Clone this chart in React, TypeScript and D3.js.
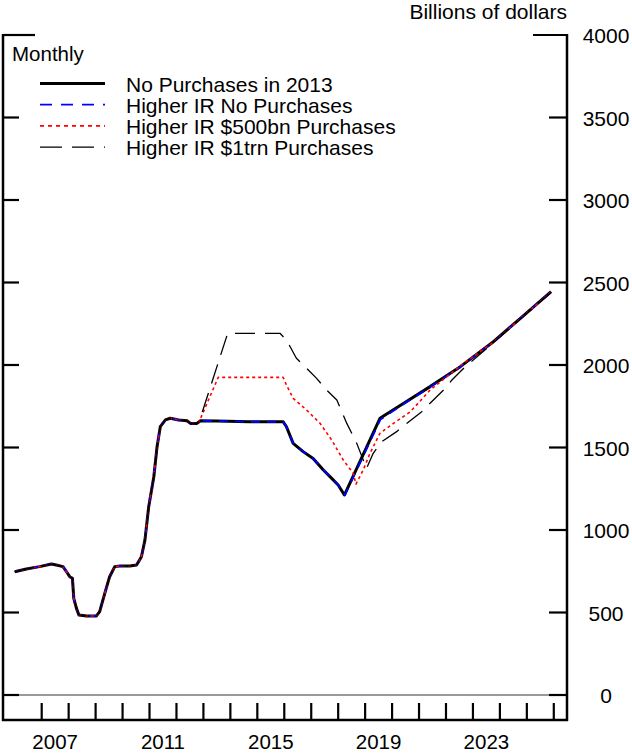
import React from "react";
import * as d3 from "d3";

// Shared history (all scenarios identical), decimal years / billions of dollars
const histDates = [2006.0, 2006.43, 2006.92, 2007.36, 2007.54, 2007.79, 2007.92, 2008.04, 2008.14, 2008.19, 2008.29, 2008.38, 2008.66, 2009.03, 2009.15, 2009.34, 2009.52, 2009.71, 2009.9, 2010.27, 2010.52, 2010.7, 2010.83, 2010.97, 2011.16, 2011.28, 2011.4, 2011.59, 2011.77, 2012.08, 2012.39, 2012.52, 2012.76];
const histValues = [747, 764, 778, 794, 788, 778, 747, 717, 707, 586, 525, 485, 479, 479, 505, 616, 717, 778, 782, 782, 788, 838, 939, 1141, 1323, 1505, 1626, 1667, 1677, 1667, 1662, 1646, 1646];

// No Purchases in 2013
const baseDates = [2012.89, 2013.5, 2014.7, 2015.96, 2016.08, 2016.33, 2016.7, 2017.07, 2017.45, 2017.76, 2018.0, 2018.23, 2019.55, 2020.3, 2021.41, 2022.53, 2023.76, 2024.76, 2025.9];
const baseValues = [1662, 1660, 1656, 1656, 1626, 1525, 1475, 1434, 1364, 1313, 1273, 1212, 1677, 1755, 1869, 1990, 2141, 2283, 2444];

// Higher IR No Purchases
const hirDates = [2012.89, 2013.5, 2014.7, 2015.96, 2016.08, 2016.33, 2016.7, 2017.07, 2017.45, 2017.76, 2018.0, 2018.25, 2019.57, 2020.3, 2021.41, 2022.53, 2023.76, 2024.76, 2025.9];
const hirValues = [1662, 1660, 1656, 1656, 1626, 1525, 1475, 1434, 1364, 1313, 1273, 1212, 1670, 1750, 1866, 1988, 2140, 2282, 2444];

// Higher IR $500bn Purchases
const h500Dates = [2012.85, 2013.55, 2015.96, 2016.08, 2016.33, 2016.83, 2017.33, 2017.76, 2018.19, 2018.56, 2018.66, 2018.93, 2019.18, 2019.55, 2020.05, 2020.68, 2021.41, 2022.53, 2023.76, 2024.76, 2025.9];
const h500Values = [1660, 1925, 1925, 1879, 1798, 1727, 1646, 1545, 1424, 1343, 1278, 1364, 1465, 1586, 1646, 1717, 1848, 1995, 2138, 2280, 2442];

// Higher IR $1trn Purchases
const h1tDates = [2012.85, 2013.9, 2015.84, 2016.08, 2016.45, 2016.83, 2017.2, 2017.57, 2017.95, 2018.32, 2018.69, 2018.93, 2019.05, 2019.3, 2019.61, 2020.17, 2020.54, 2021.1, 2021.41, 2021.91, 2022.22, 2022.72, 2023.76, 2024.76, 2025.9];
const h1tValues = [1660, 2192, 2192, 2152, 2041, 1980, 1919, 1848, 1788, 1646, 1525, 1424, 1372, 1465, 1535, 1596, 1646, 1717, 1768, 1848, 1909, 1990, 2135, 2278, 2440];

const yTicks = [0, 500, 1000, 1500, 2000, 2500, 3000, 3500, 4000];
const xTickYears = d3.range(2007, 2027);
const xLabelYears = [2007, 2011, 2015, 2019, 2023];

const legendLabels = [
  "No Purchases in 2013",
  "Higher IR No Purchases",
  "Higher IR $500bn Purchases",
  "Higher IR $1trn Purchases",
];

type Pt = [number, number];
const combine = (d: number[], v: number[]): Pt[] => d.map((t, i) => [t, v[i]]);

export default function App() {
  const W = 632, H = 753;
  const left = 3, right = 567, top = 35, zeroY = 695, bottom = 720;
  const x = d3.scaleLinear().domain([2005.564, 2026.49]).range([left, right]);
  const y = d3.scaleLinear().domain([0, 4000]).range([zeroY, top]);
  const line = d3.line<Pt>().x((d) => x(d[0])).y((d) => y(d[1]));

  const hist = combine(histDates, histValues);
  const series = [
    { pts: hist.concat(combine(baseDates, baseValues)), stroke: "#000", w: 3, dash: "" },
    { pts: hist.concat(combine(hirDates, hirValues)), stroke: "#0000ff", w: 1.8, dash: "9,7" },
    { pts: hist.concat(combine(h500Dates, h500Values)), stroke: "#ff0000", w: 1.6, dash: "3,3" },
    { pts: hist.concat(combine(h1tDates, h1tValues)), stroke: "#000", w: 1.3, dash: "20,10" },
  ];
  const legendDash = ["", "12,9", "4,4", "22,10"];
  const font = "'Liberation Sans', Arial, Helvetica, sans-serif";

  return (
    <svg width={W} height={H} style={{ position: "absolute", left: 0, top: 0, background: "#fff" }} fontFamily={font}>
      <text x={right} y={19} fontSize={21} textAnchor="end">Billions of dollars</text>
      {/* zero line */}
      <line x1={left} x2={right} y1={y(0)} y2={y(0)} stroke="#777" strokeWidth={1.5} />
      {/* y ticks both sides */}
      {yTicks.map((v) => {
        const len = v === 4000 ? 32 : 16;
        return (
          <g key={v}>
            <line x1={left} x2={left + len} y1={y(v)} y2={y(v)} stroke="#000" strokeWidth={2.2} />
            <line x1={right - len - 2} x2={right} y1={y(v)} y2={y(v)} stroke="#000" strokeWidth={2.2} />
            <text x={606} y={y(v) + 8} fontSize={21} textAnchor="middle">{v}</text>
          </g>
        );
      })}
      {/* x ticks */}
      {xTickYears.map((t) => (
        <line key={t} x1={x(t)} x2={x(t)} y1={703} y2={bottom} stroke="#000" strokeWidth={2.2} />
      ))}
      {xLabelYears.map((t) => (
        <text key={t} x={x(t + 0.5)} y={749} fontSize={20.5} textAnchor="middle">{t}</text>
      ))}
      {/* frame */}
      <line x1={left} x2={left} y1={top - 1} y2={bottom + 1} stroke="#000" strokeWidth={2.5} />
      <line x1={right} x2={right} y1={top - 1} y2={bottom + 1} stroke="#000" strokeWidth={2.5} />
      <line x1={left - 1} x2={right + 1} y1={bottom} y2={bottom} stroke="#000" strokeWidth={2.5} />
      {/* series */}
      {series.map((s, i) => (
        <path key={i} d={line(s.pts) || ""} fill="none" stroke={s.stroke} strokeWidth={s.w}
          strokeDasharray={s.dash || undefined} strokeLinejoin="round" />
      ))}
      {/* legend */}
      <text x={12} y={61} fontSize={20.5}>Monthly</text>
      {legendLabels.map((lab, i) => {
        const ly = 83.5 + i * 21.2;
        const s = series[i];
        return (
          <g key={lab}>
            <line x1={40} x2={105} y1={ly} y2={ly} stroke={s.stroke} strokeWidth={i === 0 ? 3 : s.w}
              strokeDasharray={legendDash[i] || undefined} />
            <text x={126} y={ly + 8} fontSize={21}>{lab}</text>
          </g>
        );
      })}
    </svg>
  );
}
